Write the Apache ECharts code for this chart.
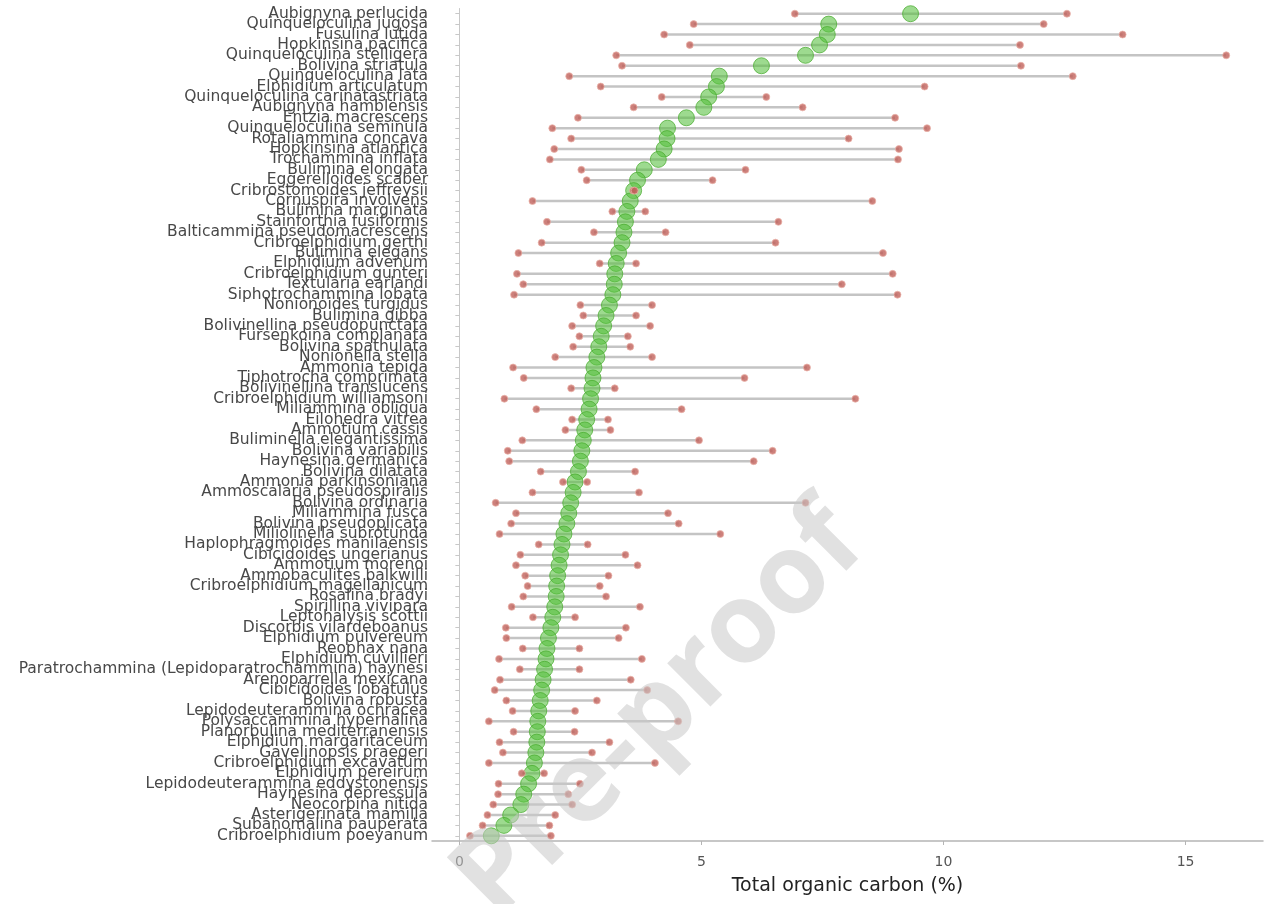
<!DOCTYPE html>
<html>
<head>
<meta charset="utf-8">
<script src="https://cdn.jsdelivr.net/npm/echarts@6/dist/echarts.min.js"></script>
<style>
html,body{margin:0;padding:0;background:#fff;}
#chart{width:1271px;height:904px;}
</style>
</head>
<body>
<div id="chart"></div>
<script>
var species = [
"Aubignyna perlucida","Quinqueloculina jugosa","Fusulina lutida","Hopkinsina pacifica",
"Quinqueloculina stelligera","Bolivina striatula","Quinqueloculina lata","Elphidium articulatum",
"Quinqueloculina carinatastriata","Aubignyna hamblensis","Entzia macrescens","Quinqueloculina seminula",
"Rotaliammina concava","Hopkinsina atlantica","Trochammina inflata","Bulimina elongata",
"Eggerelloides scaber","Cribrostomoides jeffreysii","Cornuspira involvens","Bulimina marginata",
"Stainforthia fusiformis","Balticammina pseudomacrescens","Cribroelphidium gerthi","Bulimina elegans",
"Elphidium advenum","Cribroelphidium gunteri","Textularia earlandi","Siphotrochammina lobata",
"Nonionoides turgidus","Bulimina gibba","Bolivinellina pseudopunctata","Fursenkoina complanata",
"Bolivina spathulata","Nonionella stella","Ammonia tepida","Tiphotrocha comprimata",
"Bolivinellina translucens","Cribroelphidium williamsoni","Miliammina obliqua","Eilohedra vitrea",
"Ammotium cassis","Buliminella elegantissima","Bolivina variabilis","Haynesina germanica",
"Bolivina dilatata","Ammonia parkinsoniana","Ammoscalaria pseudospiralis","Bolivina ordinaria",
"Miliammina fusca","Bolivina pseudoplicata","Miliolinella subrotunda","Haplophragmoides manilaensis",
"Cibicidoides ungerianus","Ammotium morenoi","Ammobaculites balkwilli","Cribroelphidium magellanicum",
"Rosalina bradyi","Spirillina vivipara","Leptohalysis scottii","Discorbis vilardeboanus",
"Elphidium pulvereum","Reophax nana","Elphidium cuvillieri","Paratrochammina (Lepidoparatrochammina) haynesi",
"Arenoparrella mexicana","Cibicidoides lobatulus","Bolivina robusta","Lepidodeuterammina ochracea",
"Polysaccammina hyperhalina","Planorbulina mediterranensis","Elphidium margaritaceum","Gavelinopsis praegeri",
"Cribroelphidium excavatum","Elphidium pereirum","Lepidodeuterammina eddystonensis","Haynesina depressula",
"Neocorbina nitida","Asterigerinata mamilla","Subanomalina pauperata","Cribroelphidium poeyanum"
];
var tocCentral = [
9.32,7.63,7.60,7.44,7.15,6.24,5.37,5.31,5.15,5.05,4.69,4.30,4.29,4.23,4.11,3.82,
3.68,3.60,3.53,3.46,3.43,3.40,3.36,3.29,3.24,3.21,3.20,3.17,3.10,3.03,2.98,2.93,
2.88,2.84,2.78,2.76,2.74,2.71,2.68,2.63,2.59,2.56,2.53,2.50,2.46,2.39,2.35,2.30,
2.26,2.22,2.16,2.12,2.09,2.06,2.03,2.01,2.00,1.97,1.93,1.89,1.84,1.81,1.79,1.76,
1.73,1.70,1.67,1.64,1.62,1.61,1.60,1.58,1.55,1.50,1.43,1.33,1.27,1.06,0.92,0.66
];
var tocMin = [
6.93,4.84,4.23,4.76,3.24,3.36,2.27,2.92,4.18,3.60,2.45,1.92,2.31,1.96,1.87,2.52,
2.63,3.59,1.51,3.16,1.81,2.78,1.70,1.22,2.90,1.19,1.32,1.13,2.50,2.56,2.33,2.48,
2.35,1.98,1.11,1.33,2.31,0.93,1.59,2.33,2.19,1.30,1.00,1.03,1.68,2.14,1.51,0.75,
1.17,1.07,0.83,1.64,1.26,1.17,1.36,1.41,1.32,1.08,1.52,0.96,0.97,1.31,0.82,1.25,
0.84,0.73,0.97,1.10,0.61,1.12,0.83,0.90,0.61,1.29,0.81,0.80,0.70,0.58,0.48,0.22
];
var tocMax = [
12.55,12.07,13.70,11.58,15.84,11.60,12.67,9.61,6.34,7.09,9.00,9.66,8.04,9.08,9.06,5.91,
5.23,3.62,8.53,3.84,6.59,4.26,6.53,8.75,3.65,8.95,7.90,9.05,3.98,3.65,3.94,3.48,
3.53,3.98,7.18,5.89,3.21,8.18,4.59,3.07,3.12,4.95,6.47,6.08,3.63,2.64,3.71,7.15,
4.31,4.53,5.39,2.65,3.43,3.68,3.08,2.90,3.03,3.73,2.39,3.44,3.29,2.48,3.77,2.48,
3.54,3.88,2.84,2.39,4.52,2.38,3.10,2.74,4.04,1.75,2.49,2.25,2.33,1.98,1.86,1.89
];
var xTicks = [0, 5, 10, 15];
var xTitle = "Total organic carbon (%)";
var watermark = "Pre-proof";

var rangeData = species.map(function (s, i) { return [tocMin[i], tocMax[i], s]; });
var minPts = species.map(function (s, i) { return [tocMin[i], s]; });
var maxPts = species.map(function (s, i) { return [tocMax[i], s]; });
var centralPts = species.map(function (s, i) { return [tocCentral[i], s]; });

var FONT = '"DejaVu Sans", Verdana, sans-serif';
var chart = echarts.init(document.getElementById('chart'), null, {renderer: 'canvas'});
var redStyle = {color: '#c0605a', borderColor: 'rgba(235,180,170,0.9)', borderWidth: 1};
chart.setOption({
  animation: false,
  backgroundColor: '#ffffff',
  textStyle: {fontFamily: FONT},
  grid: {left: 432, right: 8, top: 8.5, bottom: 63, containLabel: false, outerBoundsMode: 'none'},
  xAxis: {
    type: 'value', min: -0.565, max: 16.6,
    axisLine: {show: true, lineStyle: {color: '#b5b5b5', width: 1.5}},
    axisTick: {show: true, length: 4, customValues: xTicks, lineStyle: {color: '#b5b5b5'}},
    axisLabel: {customValues: xTicks, color: '#555', fontSize: 14, fontFamily: FONT, margin: 14},
    splitLine: {show: false},
    name: xTitle, nameLocation: 'middle', nameGap: 36,
    nameTextStyle: {color: '#222', fontSize: 19, fontFamily: FONT}
  },
  yAxis: {
    type: 'category', data: species, inverse: true,
    axisLine: {show: true, lineStyle: {color: '#c8c8c8', width: 1}},
    axisTick: {show: true, alignWithLabel: true, length: 4, lineStyle: {color: '#c8c8c8'}},
    axisLabel: {interval: 0, color: '#484848', fontSize: 15.5, fontFamily: FONT, margin: 4},
    splitLine: {show: false}
  },
  graphic: [{
    type: 'text', x: 660, y: 712, rotation: Math.PI / 4, z: 100,
    style: {text: watermark, fill: 'rgba(200,200,200,0.55)', font: 'bold 112px "Open Sans"', align: 'center', verticalAlign: 'middle'}
  }],
  series: [
    {
      type: 'custom', data: rangeData, z: 1,
      encode: {x: [0, 1], y: 2},
      renderItem: function (params, api) {
        var a = api.coord([api.value(0), api.value(2)]);
        var b = api.coord([api.value(1), api.value(2)]);
        return {type: 'line', shape: {x1: a[0], y1: a[1], x2: b[0], y2: b[1]},
          style: {stroke: '#c4c4c4', lineWidth: 2.5}};
      }
    },
    {
      type: 'scatter', data: centralPts, z: 2, symbolSize: 16,
      itemStyle: {color: 'rgba(85,190,60,0.72)', borderColor: 'rgba(70,170,45,0.9)', borderWidth: 1}
    },
    {type: 'scatter', data: minPts, z: 3, symbolSize: 7, itemStyle: redStyle},
    {type: 'scatter', data: maxPts, z: 3, symbolSize: 7, itemStyle: redStyle}
  ]
});
</script>
</body>
</html>
